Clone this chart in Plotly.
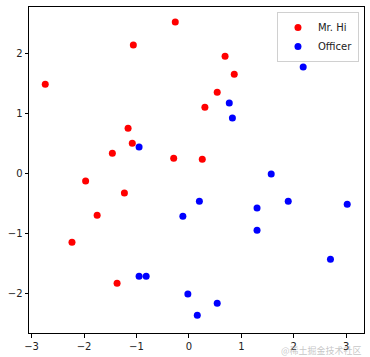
import plotly.graph_objects as go

# Mr. Hi group
hi_x = [-2.74, -1.06, -0.26, -1.16, -1.08, -1.46, -0.29, 0.69, 0.865, 0.54, 0.305, 0.255,
        -1.97, -1.23, -1.75, -2.23, -1.37]
hi_y = [1.495, 2.145, 2.53, 0.76, 0.51, 0.345, 0.26, 1.96, 1.66, 1.36, 1.11, 0.245,
        -0.12, -0.32, -0.69, -1.14, -1.82]

# Officer group
off_x = [-0.95, 2.18, 0.77, 0.83, 1.57, -0.115, -0.95, -0.815, -0.02, 0.2, 1.30, 1.895,
         3.02, 1.30, 2.70, 0.54, 0.16]
off_y = [0.45, 1.78, 1.18, 0.93, 0.0, -0.705, -1.705, -1.705, -2.0, -0.455, -0.57, -0.455,
         -0.505, -0.94, -1.42, -2.155, -2.355]

x_ticks = [-3, -2, -1, 0, 1, 2, 3]
y_ticks = [-2, -1, 0, 1, 2]

fig = go.Figure()
fig.add_trace(go.Scatter(x=hi_x, y=hi_y, mode="markers", name="Mr. Hi",
                         marker=dict(color="#ff0000", size=7)))
fig.add_trace(go.Scatter(x=off_x, y=off_y, mode="markers", name="Officer",
                         marker=dict(color="#0000ff", size=7)))

axis_common = dict(showgrid=False, zeroline=False, showline=True, linecolor="black",
                   linewidth=1, mirror=True, ticks="outside", ticklen=3.5,
                   tickcolor="black", tickfont=dict(family="DejaVu Sans", size=10, color="#222"))
fig.update_xaxes(range=[-3.05, 3.34], tickvals=x_ticks, **axis_common)
fig.update_yaxes(range=[-2.65, 2.78], tickvals=y_ticks, **axis_common)

fig.update_layout(
    width=370, height=357,
    margin=dict(l=29, r=6, t=7, b=24),
    plot_bgcolor="white", paper_bgcolor="white",
    showlegend=True,
    legend=dict(x=0.985, y=0.985, xanchor="right", yanchor="top",
                bordercolor="#d0d0d0", borderwidth=1, bgcolor="rgba(255,255,255,0.8)",
                font=dict(family="DejaVu Sans", size=10, color="#222"),
                itemwidth=30, tracegroupgap=0),
    annotations=[dict(text="@稀土掘金技术社区", xref="paper", yref="paper", x=1.0, y=-0.055,
                      xanchor="right", yanchor="middle", showarrow=False,
                      font=dict(family="Noto Sans CJK SC", size=9, color="rgba(160,160,160,0.6)"))]
)

fig.write_html("out.html")
